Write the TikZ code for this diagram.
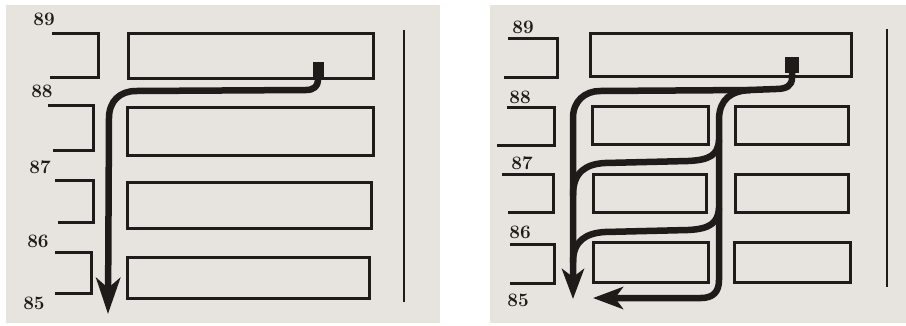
\documentclass[tikz,border=0pt]{standalone}
\usetikzlibrary{arrows.meta}
\definecolor{paper}{HTML}{E7E4DF}
\definecolor{ink}{HTML}{1F1B18}
\begin{document}
\begin{tikzpicture}[x=1pt,y=-1pt,
  shelf/.style={draw=ink,line width=3pt,inner sep=0pt,rectangle},
  stub/.style={draw=ink,line width=3pt},
  wall/.style={draw=ink,line width=2.6pt},
  lbl/.style={text=ink,inner sep=0pt,font=\fontsize{19}{19}\selectfont\bfseries},
  start/.style={fill=ink,inner sep=0pt,rectangle},
  route/.style={draw=ink,line width=6.5pt,line cap=round,line join=round},
  tip/.style={-{Stealth[length=36pt,width=24pt,inset=10pt]}},
  tipR/.style={-{Stealth[length=30pt,width=22pt,inset=8pt]}}
]
\useasboundingbox (0,0) rectangle (906,325);
\fill[white] (0,0) rectangle (906,325);
\fill[paper] (6,5) rectangle (440,323);
\fill[paper] (490,5) rectangle (906,323);

% ---------- left panel ----------
\node[lbl] (l89) at (44,19) {89};
\node[lbl] (l88) at (42,91) {88};
\node[lbl] (l87) at (40,167) {87};
\node[lbl] (l86) at (38,241) {86};
\node[lbl] (l85) at (34,303) {85};

\draw[stub] (52,33) -- (98,33) -- (98,77) -- (50,77);
\draw[stub] (48,105) -- (93,105) -- (93,150) -- (53,150);
\draw[stub] (55,180) -- (93,180) -- (93,222) -- (58,222);
\draw[stub] (55,252) -- (91,252) -- (91,293) -- (55,293);

\node[shelf,minimum width=245pt,minimum height=45pt] (L1) at (250.5,55.5) {};
\node[shelf,minimum width=246pt,minimum height=48pt] (L2) at (250,131) {};
\node[shelf,minimum width=244pt,minimum height=46pt] (L3) at (249,205) {};
\node[shelf,minimum width=242pt,minimum height=41pt] (L4) at (248,277.5) {};

\draw[wall] (404,30) -- (404,302);

\node[start,minimum width=11pt,minimum height=15pt] (sqL) at (318,69) {};
\coordinate (endL) at (108,314);
\draw[route,tip] (sqL.south) -- (318,80) .. controls (318,86) and (314,90) .. (306,90)
  -- (136,91) .. controls (120,91) and (109,101) .. (109,118) -- (endL);

% ---------- right panel ----------
\node[lbl] (r89) at (523,27) {89};
\node[lbl] (r88) at (520,97) {88};
\node[lbl] (r87) at (522,163) {87};
\node[lbl] (r86) at (520,232) {86};
\node[lbl] (r85) at (518,300) {85};

\draw[stub] (508,38) -- (557,38) -- (557,77) -- (504,77);
\draw[stub] (507,107) -- (554,107) -- (554,145) -- (497,145);
\draw[stub] (502,174) -- (553,174) -- (553,212) -- (508,212);
\draw[stub] (510,244) -- (554,244) -- (554,283) -- (510,283);

\node[shelf,minimum width=261pt,minimum height=43pt] (T) at (720.5,54.5) {};
\node[shelf,minimum width=116pt,minimum height=38pt] (A2) at (650,125) {};
\node[shelf,minimum width=113pt,minimum height=38pt] (B2) at (791.5,125) {};
\node[shelf,minimum width=113pt,minimum height=38pt] (A3) at (650,193) {};
\node[shelf,minimum width=113pt,minimum height=38pt] (B3) at (791.5,193) {};
\node[shelf,minimum width=115pt,minimum height=40pt] (A4) at (651,262) {};
\node[shelf,minimum width=116pt,minimum height=40pt] (B4) at (792,262) {};

\draw[wall] (887,29) -- (887,287);

\node[start,minimum width=14pt,minimum height=16pt] (sqR) at (792,65) {};
\coordinate (fork) at (750,90);
\coordinate (endA) at (573,299);
\coordinate (endB) at (593,298);
\draw[route] (sqR.south) -- (792,78) .. controls (792,86) and (786,89) .. (776,89) -- (fork);
\draw[route,tipR] (fork) -- (600,91) .. controls (585,91) and (573,101) .. (573,118) -- (endA);
\draw[route,tipR] (fork) .. controls (731,91) and (720,99) .. (719,118) -- (719,280)
  .. controls (719,292) and (713,298) .. (701,298) -- (endB);
\draw[route] (719,140) .. controls (718,155) and (710,160) .. (688,161) -- (605,163)
  .. controls (586,164) and (573,172) .. (573,195);
\draw[route] (719,208) .. controls (718,223) and (710,229) .. (688,230) -- (605,232)
  .. controls (586,233) and (573,241) .. (573,262);
\end{tikzpicture}
\end{document}
